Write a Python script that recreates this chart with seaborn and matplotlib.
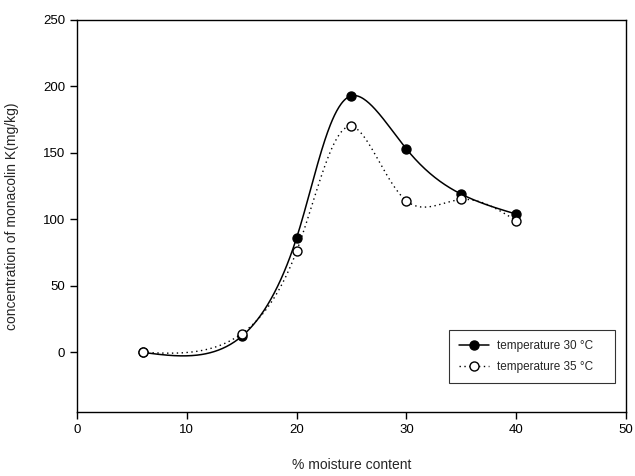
import numpy as np
import pandas as pd
import seaborn as sns
import matplotlib.pyplot as plt
from matplotlib.lines import Line2D

# values
moisture = [6, 15, 20, 25, 30, 35, 40]
temp30 = [0, 12, 86, 193, 153, 119, 104]
temp35 = [0, 14, 76, 170, 114, 115, 99]
labels = ['temperature 30 \u00b0C', 'temperature 35 \u00b0C']


def spline_eval(t, y, ts):
    # natural cubic spline through (t, y), evaluated at ts
    k = len(t)
    h = np.diff(t)
    A = np.zeros((k, k))
    r = np.zeros(k)
    A[0, 0] = A[-1, -1] = 1
    for i in range(1, k - 1):
        A[i, i - 1] = h[i - 1]
        A[i, i] = 2 * (h[i - 1] + h[i])
        A[i, i + 1] = h[i]
        r[i] = 3 * ((y[i + 1] - y[i]) / h[i] - (y[i] - y[i - 1]) / h[i - 1])
    c = np.linalg.solve(A, r)
    b = (y[1:] - y[:-1]) / h - h * (2 * c[:-1] + c[1:]) / 3
    d = (c[1:] - c[:-1]) / (3 * h)
    idx = np.clip(np.searchsorted(t, ts) - 1, 0, k - 2)
    u = ts - t[idx]
    return y[idx] + b[idx] * u + c[idx] * u ** 2 + d[idx] * u ** 3


def smooth_curve(x, y, n=400):
    # parametric spline over chord length, just for drawing the line
    x = np.asarray(x, float)
    y = np.asarray(y, float)
    t = np.concatenate([[0], np.cumsum(np.hypot(np.diff(x * 11.0), np.diff(y * 0.6)))])
    ts = np.linspace(0, t[-1], n)
    return pd.DataFrame({'x': spline_eval(t, x, ts), 'y': spline_eval(t, y, ts)})


sns.set_style("ticks")
plt.rcParams['font.family'] = ['Liberation Sans', 'DejaVu Sans']

fig, ax = plt.subplots(figsize=(6.35, 4.76), dpi=100)
fig.subplots_adjust(left=0.121, right=0.986, top=0.958, bottom=0.134)

c30 = smooth_curve(moisture, temp30)
c35 = smooth_curve(moisture, temp35)

sns.lineplot(data=c30, x='x', y='y', ax=ax, color='black', linewidth=1.1,
             sort=False, estimator=None)
sns.lineplot(data=c35, x='x', y='y', ax=ax, color='black', linewidth=1.0,
             sort=False, estimator=None)
ax.lines[-1].set_dashes((1, 2.5))

pts = pd.DataFrame({'x': moisture, 't30': temp30, 't35': temp35})
sns.scatterplot(data=pts, x='x', y='t30', ax=ax, color='black',
                edgecolor='black', s=42, linewidth=1, zorder=3)
sns.scatterplot(data=pts, x='x', y='t35', ax=ax, color='white',
                edgecolor='black', s=42, linewidth=1, zorder=4)

ax.set_xlim(0, 50)
ax.set_ylim(-45, 250)
ax.set_xticks([0, 10, 20, 30, 40, 50])
ax.set_yticks([0, 50, 100, 150, 200, 250])
ax.tick_params(direction='out', length=5, width=1, labelsize=9.5,
               colors='black')
for s in ax.spines.values():
    s.set_visible(True)
    s.set_color('black')
    s.set_linewidth(1)

ax.set_xlabel('% moisture content', fontsize=10, labelpad=16)
ax.set_ylabel('concentration of monacolin K(mg/kg)', fontsize=10, labelpad=17)

handles = [
    Line2D([], [], color='black', lw=1.1, marker='o', ms=6.5,
           markerfacecolor='black', markeredgecolor='black'),
    Line2D([], [], color='black', lw=1.0, dashes=(1, 2.5), marker='o', ms=6.5,
           markerfacecolor='white', markeredgecolor='black'),
]
leg = ax.legend(handles, labels, loc='lower left', mode='expand',
                bbox_to_anchor=(0.678, 0.074, 0.302, 0.135),
                fontsize=8.5, frameon=True, fancybox=False, edgecolor='black',
                handlelength=2.5, borderpad=0.85, labelspacing=0.75,
                handletextpad=0.7, borderaxespad=0)
leg.get_frame().set_linewidth(0.8)

fig.savefig('out.png', dpi=100)
